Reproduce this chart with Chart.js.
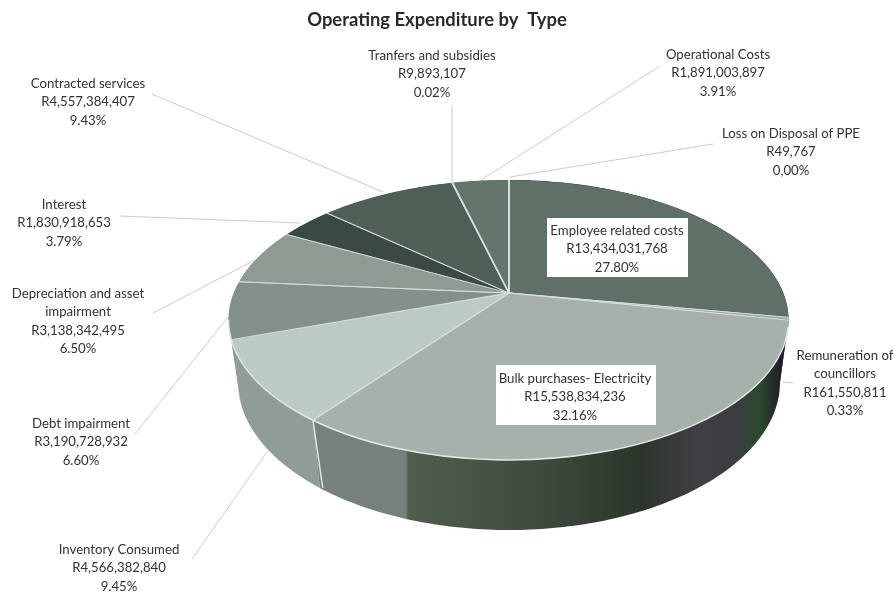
<!DOCTYPE html>
<html>
<head>
<meta charset="utf-8">
<title>Operating Expenditure by Type</title>
<script src="https://cdn.jsdelivr.net/npm/chart.js@4"></script>
<style>
    html, body { margin: 0; padding: 0; background: #fff; }
    canvas { display: block; }
</style>
</head>
<body>
<canvas id="pieChart" width="893" height="592"></canvas>
<script>
// Chart data
const chartTitle = 'Operating Expenditure by  Type';
const categories = [
    'Employee related costs',
    'Remuneration of councillors',
    'Bulk purchases- Electricity',
    'Inventory Consumed',
    'Debt impairment',
    'Depreciation and asset impairment',
    'Interest',
    'Contracted services',
    'Tranfers and subsidies',
    'Operational Costs',
    'Loss on Disposal of PPE'
];
const amounts = [
    13434031768, 161550811, 15538834236, 4566382840, 3190728932, 3138342495,
    1830918653, 4557384407, 9893107, 1891003897, 49767
];
const percents = [
    '27.80%', '0.33%', '32.16%', '9.45%', '6.60%', '6.50%',
    '3.79%', '9.43%', '0.02%', '3.91%', '0,00%'
];

// Colours
const topColors = [
    '#5f7066', '#a4afa9', '#a6b1ab', '#bccac6', '#84918a', '#8e9b93',
    '#3a4941', '#4e5f55', '#56675c', '#64756b', '#5f7066'
];
const wallColors = [
    '#221c2b', '#221c2b', null, '#909c96', '#909c96', '#7d8a82',
    '#4a5a50', '#4a5a50', '#4a5a50', '#4a5a50', '#4a5a50'
];
const bulkWallStops = [
    [0, '#75817a'], [0.19, '#75817a'], [0.195, '#505e4e'], [0.5, '#3b483c'],
    [0.69, '#2b352b'], [0.81, '#403f44'], [0.89, '#3a3c40'], [0.94, '#2a4a2c'],
    [0.985, '#221c2b'], [1, '#221c2b']
];

// Label layout: text lines, centre x, line centres y, leader line
const labelLayout = [
    { lines: ['Employee related costs'], x: 617, y: 231, box: [547, 218, 141, 59] },
    { lines: ['Remuneration of', 'councillors'], x: 845, y: 356, leader: [782, 382, 793, 383] },
    { lines: ['Bulk purchases- Electricity'], x: 575, y: 379, box: [496, 365, 160, 60] },
    { lines: ['Inventory Consumed'], x: 119, y: 550, leader: [192, 559, 267, 452] },
    { lines: ['Debt impairment'], x: 81, y: 424, leader: [135, 434, 228, 317] },
    { lines: ['Depreciation and asset', 'impairment'], x: 78, y: 294, leader: [153, 313, 255, 260] },
    { lines: ['Interest'], x: 64, y: 205, leader: [120, 216, 300, 223] },
    { lines: ['Contracted services'], x: 88, y: 84, leader: [152, 94, 383, 192] },
    { lines: ['Tranfers and subsidies'], x: 432, y: 56, leader: [452, 105, 452, 182] },
    { lines: ['Operational Costs'], x: 718, y: 55, leader: [660, 66, 481, 180] },
    { lines: ['Loss on Disposal of PPE'], x: 791, y: 134, leader: [713, 144, 510, 177] }
];

// Shape of the tilted pie
const topEllipse = { cx: 508.5, cy: 320, rx: 280, ry: 140 };
const baseEllipse = { cx: 509, cy: 382, rx: 271, ry: 148 };
const pieRadius = 360;
const squash = 0.49;

// Where a slice angle meets the rim of the top face, as an ellipse parameter
function rimParam(angle, hubX, hubY) {
    const dx = Math.cos(angle) / topEllipse.rx;
    const dy = Math.sin(angle) * squash / topEllipse.ry;
    const ox = (hubX - topEllipse.cx) / topEllipse.rx;
    const oy = (hubY - topEllipse.cy) / topEllipse.ry;
    const a = dx * dx + dy * dy;
    const b = 2 * (ox * dx + oy * dy);
    const c = ox * ox + oy * oy - 1;
    const t = (-b + Math.sqrt(b * b - 4 * a * c)) / (2 * a);
    return Math.atan2(oy + t * dy, ox + t * dx);
}

function onEllipse(e, u) {
    return [e.cx + e.rx * Math.cos(u), e.cy + e.ry * Math.sin(u)];
}

function drawWalls(ctx, arcs) {
    arcs.forEach((arc, i) => {
        const steps = Math.max(2, Math.ceil((arc.endAngle - arc.startAngle) * 60));
        const us = [];
        for (let s = 0; s <= steps; s++) {
            const a = arc.startAngle + (arc.endAngle - arc.startAngle) * s / steps;
            us.push(rimParam(a, arc.x, arc.y));
        }
        ctx.beginPath();
        us.forEach((u, s) => {
            const p = onEllipse(topEllipse, u);
            if (s === 0) ctx.moveTo(p[0], p[1]);
            else ctx.lineTo(p[0], p[1]);
        });
        us.slice().reverse().forEach(u => {
            const p = onEllipse(baseEllipse, u);
            ctx.lineTo(p[0], p[1]);
        });
        ctx.closePath();
        if (wallColors[i]) {
            ctx.fillStyle = wallColors[i];
        } else {
            const grad = ctx.createLinearGradient(316, 0, 788, 0);
            bulkWallStops.forEach(s => grad.addColorStop(s[0], s[1]));
            ctx.fillStyle = grad;
        }
        ctx.fill();
    });

    // seam between the two front slices
    const front = arcs[2];
    const u = rimParam(front.endAngle, front.x, front.y);
    const p = onEllipse(topEllipse, u);
    const q = onEllipse(baseEllipse, u);
    ctx.strokeStyle = '#dfe5e1';
    ctx.lineWidth = 1.5;
    ctx.beginPath();
    ctx.moveTo(p[0], p[1]);
    ctx.lineTo(q[0] + 3, q[1]);
    ctx.stroke();
}

// Draws the library's arcs squashed about the hub and cut to the top face
function drawTop(ctx, arcs) {
    const hubX = arcs[0].x;
    const hubY = arcs[0].y;
    const k = pieRadius / arcs[0].outerRadius;
    ctx.save();
    ctx.beginPath();
    ctx.ellipse(topEllipse.cx, topEllipse.cy, topEllipse.rx, topEllipse.ry, 0, 0, Math.PI * 2);
    ctx.clip();
    ctx.translate(hubX, hubY);
    ctx.scale(k, k * squash);
    ctx.translate(-hubX, -hubY);
    arcs.forEach(arc => arc.draw(ctx));
    ctx.restore();

    // light rim along the front of the top face
    ctx.strokeStyle = '#e3e8e5';
    ctx.lineWidth = 1.5;
    ctx.beginPath();
    ctx.ellipse(topEllipse.cx, topEllipse.cy, topEllipse.rx, topEllipse.ry, 0, 0.05, Math.PI);
    ctx.stroke();
}

const tiltedPie = {
    id: 'tiltedPie',
    beforeDatasetsDraw(chart) {
        const ctx = chart.ctx;
        const arcs = chart.getDatasetMeta(0).data;
        drawWalls(ctx, arcs);
        drawTop(ctx, arcs);
        return false;
    },
    afterDraw(chart) {
        const ctx = chart.ctx;
        ctx.save();
        ctx.textAlign = 'center';
        ctx.textBaseline = 'middle';

        ctx.fillStyle = '#262c2a';
        ctx.font = 'bold 18.4px Lato';
        ctx.fillText(chartTitle, 437, 20);

        ctx.strokeStyle = '#c9cccb';
        ctx.lineWidth = 1;
        labelLayout.forEach(item => {
            if (item.leader) {
                ctx.beginPath();
                ctx.moveTo(item.leader[0], item.leader[1]);
                ctx.lineTo(item.leader[2], item.leader[3]);
                ctx.stroke();
            }
        });

        ctx.font = '13.2px Lato';
        labelLayout.forEach((item, i) => {
            if (item.box) {
                ctx.fillStyle = '#fff';
                ctx.fillRect(item.box[0], item.box[1], item.box[2], item.box[3]);
            }
            const text = item.lines.concat([
                'R' + amounts[i].toLocaleString('en-US'),
                percents[i]
            ]);
            ctx.fillStyle = '#2e3432';
            text.forEach((line, n) => {
                ctx.fillText(line, item.x, item.y + n * 18.2);
            });
        });
        ctx.restore();
    }
};

new Chart(document.getElementById('pieChart'), {
    type: 'pie',
    data: {
        labels: categories,
        datasets: [{
            data: amounts,
            backgroundColor: topColors,
            borderColor: '#d9e0dc',
            borderWidth: 1.4
        }]
    },
    options: {
        responsive: false,
        animation: false,
        layout: { padding: { left: 125, right: 0, top: 0, bottom: 6 } },
        plugins: {
            legend: { display: false },
            tooltip: { enabled: false }
        }
    },
    plugins: [tiltedPie]
});
</script>
</body>
</html>
